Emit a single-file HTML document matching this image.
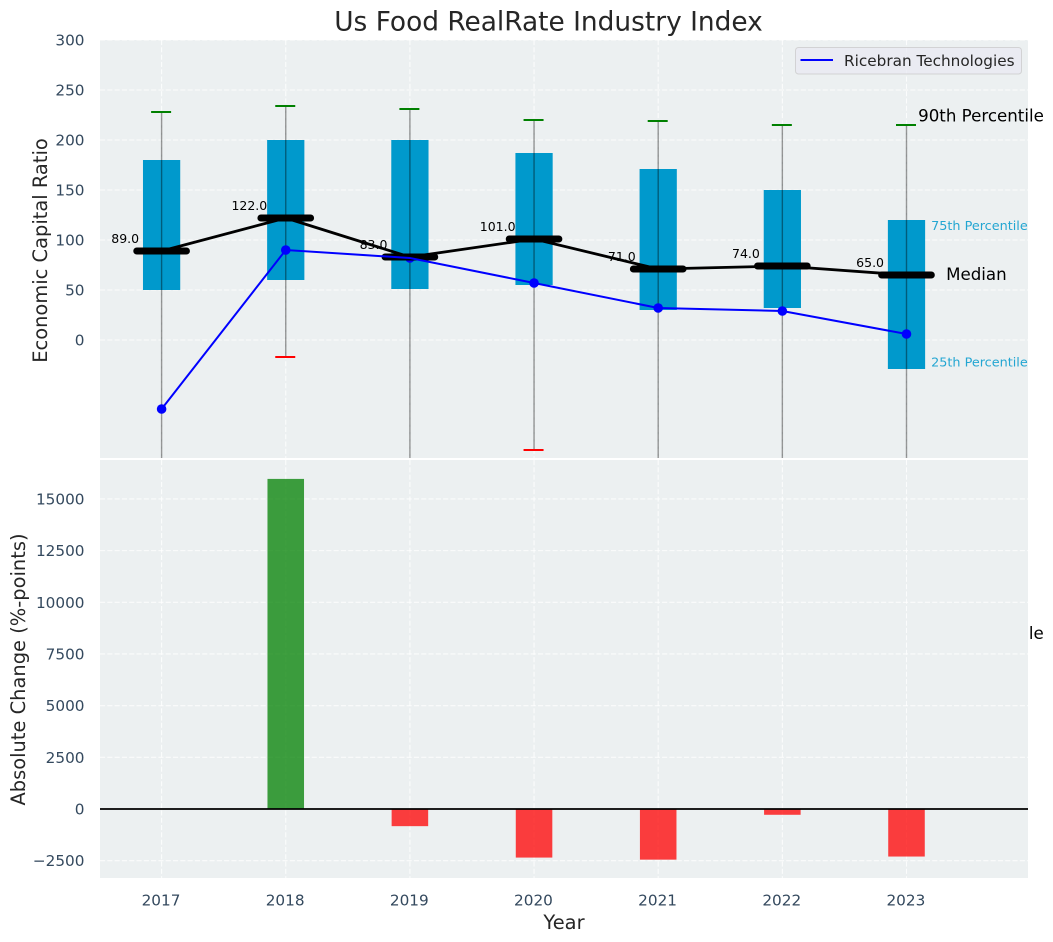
<!DOCTYPE html>
<html>
<head>
<meta charset="utf-8">
<title>Us Food RealRate Industry Index</title>
<style>
html,body{margin:0;padding:0;background:#fff;width:1053px;height:942px;overflow:hidden}
svg{display:block;font-family:"DejaVu Sans","Liberation Sans",sans-serif}
</style>
</head>
<body>
<svg id="chart" xmlns="http://www.w3.org/2000/svg" width="1053" height="942" viewBox="0 0 1053 942">
<defs>
<clipPath id="clip-top"><rect x="100" y="40" width="928" height="418"/></clipPath>
<clipPath id="clip-bottom"><rect x="100" y="460" width="928" height="418"/></clipPath>
</defs>
</svg>
<script>
const years = [2017, 2018, 2019, 2020, 2021, 2022, 2023];
const q25 = [50, 60, 51, 55, 30, 32, -29];
const q75 = [180, 200, 200, 187, 171, 150, 120];
const medians = [89, 122, 83, 101, 71, 74, 65];
const p90 = [228, 234, 231, 220, 219, 215, 215];
const p10 = [-160, -17, -160, -110, -160, -160, -160];
const ricebran = [-69, 90, 82, 57, 32, 29, 6];
const absChange = [0, 15970, -830, -2350, -2450, -280, -2300];
const topTicks = [0, 50, 100, 150, 200, 250, 300];
const bottomTicks = [-2500, 0, 2500, 5000, 7500, 10000, 12500, 15000];

const NS = 'http://www.w3.org/2000/svg';
const svg = document.getElementById('chart');
const x = function (year) { return 161.6 + (year - 2017) * 124.15; };
const yTop = function (v) { return 340 - v; };
const yBottom = function (v) { return 809 - v * 0.02067; };
const xDataWidth = function (w) { return w * 124.15; };

function make(tag, attrs, parent, txt) {
  const e = document.createElementNS(NS, tag);
  for (const k in attrs) e.setAttribute(k, attrs[k]);
  if (txt !== undefined) e.textContent = txt;
  (parent || svg).appendChild(e);
  return e;
}
function label(v) { return String(v).replace('-', '\u2212'); }

/* 10th percentile annotation sits under the lower panel; only its tail shows */
const tenth = make('text', {x: 918, y: 639, 'font-size': 16.67, fill: '#000'}, svg, '10th Percentile');



/* panels */
const topBg = make('rect', {x: 100, y: 40, width: 928, height: 418, fill: '#ecf0f1'});


const bottomBg = make('rect', {x: 100, y: 460, width: 928, height: 418, fill: '#ecf0f1'});



const gridAttrs = {stroke: '#fff', 'stroke-width': 1.1, 'stroke-dasharray': '5.1 2.2', 'stroke-opacity': 0.8};

const topG = make('g', {'clip-path': 'url(#clip-top)'});


const bottomG = make('g', {'clip-path': 'url(#clip-bottom)'});



/* grid */
years.forEach(function (yr) {
  const a = make('line', Object.assign({x1: x(yr), x2: x(yr), y1: 40, y2: 458}, gridAttrs), topG);
  
  
  const b = make('line', Object.assign({x1: x(yr), x2: x(yr), y1: 460, y2: 878}, gridAttrs), bottomG);
  
  
});
topTicks.forEach(function (t) {
  const g = make('line', Object.assign({x1: 100, x2: 1028, y1: yTop(t), y2: yTop(t)}, gridAttrs), topG);
  
  
  const l = make('text', {x: 84.5, y: yTop(t) + 5.5, 'text-anchor': 'end', 'font-size': 15.28, fill: '#34495e'}, svg, label(t));
  
  
});
bottomTicks.forEach(function (t) {
  const g = make('line', Object.assign({x1: 100, x2: 1028, y1: yBottom(t), y2: yBottom(t)}, gridAttrs), bottomG);
  
  
  const l = make('text', {x: 84.5, y: yBottom(t) + 5.5, 'text-anchor': 'end', 'font-size': 15.28, fill: '#34495e'}, svg, label(t));
  
  
});

/* boxes, whiskers, caps */
years.forEach(function (yr, i) {
  const cx = x(yr);
  const w = xDataWidth(0.3);
  const box = make('rect', {x: cx - w / 2, y: yTop(q75[i]), width: w, height: yTop(q25[i]) - yTop(q75[i]), fill: '#0099cc'}, topG);
  
  
  const wh = make('line', {x1: cx, x2: cx, y1: yTop(p90[i]), y2: yTop(p10[i]), stroke: '#000', 'stroke-opacity': 0.4, 'stroke-width': 1.4}, topG);
  
  
  const capHi = make('line', {x1: cx - 10.5, x2: cx + 9.5, y1: yTop(p90[i]), y2: yTop(p90[i]), stroke: '#008000', 'stroke-width': 2}, topG);
  
  
  const capLo = make('line', {x1: cx - 10.5, x2: cx + 9.5, y1: yTop(p10[i]), y2: yTop(p10[i]), stroke: '#ff0000', 'stroke-width': 2}, topG);
  
  
});

/* ricebran markers under medians */
years.forEach(function (yr, i) {
  const m = make('circle', {cx: x(yr), cy: yTop(ricebran[i]), r: 4.8, fill: '#0000ff'}, topG);
  
  
});

/* median trend and median bars */
const medLine = make('polyline', {points: years.map(function (yr, i) { return x(yr) + ',' + yTop(medians[i]); }).join(' '), fill: 'none', stroke: '#000', 'stroke-width': 2.8}, topG);


years.forEach(function (yr, i) {
  const cx = x(yr);
  const half = xDataWidth(0.2);
  const m = make('line', {x1: cx - half, x2: cx + half, y1: yTop(medians[i]), y2: yTop(medians[i]), stroke: '#000', 'stroke-width': 7, 'stroke-linecap': 'round'}, topG);
  
  
  const t = make('text', {x: cx - 36.4, y: yTop(medians[i]) - 8, 'text-anchor': 'middle', 'font-size': 12.5, fill: '#000'}, svg, medians[i].toFixed(1));
  
  
});

/* ricebran line */
const rice = make('polyline', {points: years.map(function (yr, i) { return x(yr) + ',' + yTop(ricebran[i]); }).join(' '), fill: 'none', stroke: '#0000ff', 'stroke-width': 2}, topG);



/* bars */
years.forEach(function (yr, i) {
  const v = absChange[i];
  if (v === 0) return;
  const w = xDataWidth(0.3) - 0.7;
  const y0 = Math.min(yBottom(v), yBottom(0));
  const b = make('rect', {x: x(yr) - w / 2, y: y0, width: w, height: Math.abs(yBottom(v) - yBottom(0)), fill: v > 0 ? '#008000' : '#ff0000', 'fill-opacity': 0.75}, bottomG);
  
  
});
const zero = make('line', {x1: 100, x2: 1028, y1: yBottom(0), y2: yBottom(0), stroke: '#000', 'stroke-width': 1.7}, bottomG);



/* x ticks */
years.forEach(function (yr) {
  const t = make('text', {x: x(yr) - 0.6, y: 905.5, 'text-anchor': 'middle', 'font-size': 15.28, fill: '#34495e'}, svg, String(yr));
  
  
});

/* annotations anchored to the last year */
const last = years.length - 1;
const lx = x(years[last]);
const a90 = make('text', {x: lx + 11.6, y: yTop(p90[last]) - 3.5, 'font-size': 16.67, fill: '#000'}, svg, '90th Percentile');


const a75 = make('text', {x: lx + 24.6, y: yTop(q75[last]) + 10, 'font-size': 12.8, fill: '#0099cc', 'fill-opacity': 0.85}, svg, '75th Percentile');


const a25 = make('text', {x: lx + 24.6, y: yTop(q25[last]) - 2.5, 'font-size': 12.8, fill: '#0099cc', 'fill-opacity': 0.85}, svg, '25th Percentile');


const aMed = make('text', {x: lx + 39.6, y: yTop(medians[last]) + 5, 'font-size': 16.67, fill: '#000'}, svg, 'Median');



/* legend */
const legend = make('g', {});


const legendBox = make('rect', {x: 795.5, y: 47.5, width: 226, height: 26.5, rx: 3, fill: '#eaeaf2', 'fill-opacity': 0.8, stroke: '#cccccc', 'stroke-opacity': 0.8, 'stroke-width': 1}, legend);


const legendLine = make('line', {x1: 800.5, x2: 833, y1: 60, y2: 60, stroke: '#0000ff', 'stroke-width': 2}, legend);


const legendText = make('text', {x: 844, y: 66, 'font-size': 15.28, fill: '#262626'}, legend, 'Ricebran Technologies');



/* titles */
const title = make('text', {x: 548.5, y: 30.5, 'text-anchor': 'middle', 'font-size': 26.4, fill: '#262626'}, svg, 'Us Food RealRate Industry Index');


const xTitle = make('text', {x: 564, y: 929, 'text-anchor': 'middle', 'font-size': 19.44, fill: '#262626'}, svg, 'Year');


const yTitleTop = make('text', {x: 0, y: 0, transform: 'translate(47,250.5) rotate(-90)', 'text-anchor': 'middle', 'font-size': 19.44, fill: '#262626'}, svg, 'Economic Capital Ratio');


const yTitleBottom = make('text', {x: 0, y: 0, transform: 'translate(25,669.5) rotate(-90)', 'text-anchor': 'middle', 'font-size': 19.44, fill: '#262626'}, svg, 'Absolute Change (%-points)');


</script>
</body>
</html>
